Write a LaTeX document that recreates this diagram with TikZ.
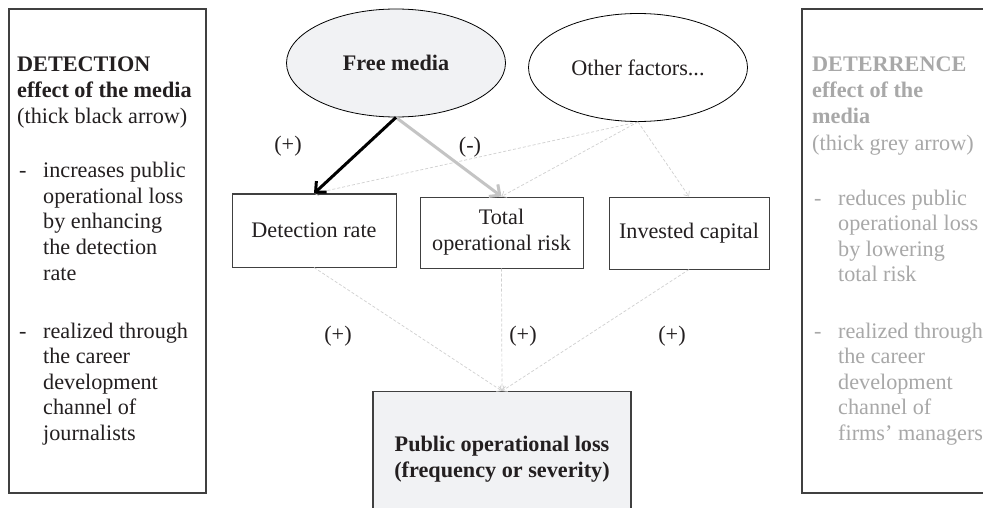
\documentclass[tikz,border=0pt]{standalone}
\usepackage{fontspec}
\setmainfont{Liberation Serif}
\usetikzlibrary{arrows.meta,shapes.geometric}
\definecolor{txt}{HTML}{231F20}
\definecolor{lg}{HTML}{A8A8A8}
\definecolor{fillg}{HTML}{F1F2F4}
\definecolor{dashc}{HTML}{D0D0D0}
\definecolor{arrg}{HTML}{C4C4C4}
\definecolor{bord}{HTML}{404040}
\newcommand\myfs{\fontsize{22.2}{26}\selectfont}
\begin{document}
\begin{tikzpicture}[x=1pt,y=-1pt, font=\myfs, text=txt,
  panel/.style={draw=bord, line width=1.2pt},
  ln/.style={anchor=base west, inner sep=0pt},
  ell/.style={ellipse, draw=black, line width=0.8pt, minimum width=219pt, minimum height=108pt, inner sep=0pt},
  varbox/.style={draw=bord, line width=1pt, align=center, inner sep=0pt},
  thickarr/.style={line width=3pt, -{Straight Barb[length=8pt,width=15pt]}},
  dasharr/.style={draw=dashc, line width=0.7pt, dash pattern=on 3pt off 2pt, -{Straight Barb[length=4pt,width=7pt]}},
  lbl/.style={inner sep=0pt}
]
\useasboundingbox (0,0) rectangle (983,508);
\clip (0,0) rectangle (983,508);
\fill[white] (0,0) rectangle (983,508);

% side panels
\draw[panel] (9,9) rectangle (206,493);
\draw[panel] (802,9) rectangle (1000,493);

% left panel text
\foreach \yy/\txt [count=\i] in {72/{\textbf{DETECTION}}, 98/{\textbf{effect of the media}}, 124/{(thick black arrow)}}
  \node[ln] (lh\i) at (17,\yy) {\txt};
\node[ln] (ld1) at (19,178) {-};
\foreach \yy/\txt [count=\i] in {178/{increases public}, 203.5/{operational loss}, 229/{by enhancing}, 254.5/{the detection}, 280/{rate}}
  \node[ln] (la\i) at (43,\yy) {\txt};
\node[ln] (ld2) at (19,338) {-};
\foreach \yy/\txt [count=\i] in {338/{realized through}, 363.5/{the career}, 389/{development}, 414.5/{channel of}, 440/{journalists}}
  \node[ln] (lb\i) at (43,\yy) {\txt};

% right panel text
\begin{scope}[text=lg]
\foreach \yy/\txt [count=\i] in {72/{\textbf{DETERRENCE}}, 98/{\textbf{effect of the}}, 124/{\textbf{media}}, 150/{(thick grey arrow)}}
  \node[ln] (rh\i) at (812,\yy) {\txt};
\node[ln] (rd1) at (814,205) {-};
\foreach \yy/\txt [count=\i] in {205/{reduces public}, 230.5/{operational loss}, 256/{by lowering}, 281.5/{total risk}}
  \node[ln] (ra\i) at (838,\yy) {\txt};
\node[ln] (rd2) at (814,338) {-};
\foreach \yy/\txt [count=\i] in {338/{realized through}, 363.5/{the career}, 389/{development}, 414.5/{channel of}, 440/{firms’ managers}}
  \node[ln] (rb\i) at (838,\yy) {\txt};
\end{scope}

% ellipses
\node[ell, fill=fillg, font=\myfs\bfseries] (free) at (396,63) {Free media};
\node[ell] (other) at (638,67.5) {Other factors...};

% middle boxes
\node[varbox, minimum width=164pt, minimum height=73pt] (det) at (314,230.5) {Detection rate};
\node[varbox, minimum width=163pt, minimum height=71pt] (tot) at (501.5,232.5) {Total\\operational risk};
\node[varbox, minimum width=160pt, minimum height=72pt] (inv) at (689,233) {Invested capital};

% outcome box
\node[draw=bord, line width=1.2pt, fill=fillg, minimum width=258pt, minimum height=140pt, anchor=north, inner sep=0pt] (pub) at (502,391) {};
\node[font=\myfs\bfseries, align=center, inner sep=0pt] (pubtxt) at (502,459) {Public operational loss\\(frequency or severity)};

% dashed connectors
\draw[dasharr] (other.south) -- (det.north);
\draw[dasharr] (other.south) -- (tot.north);
\draw[dasharr] (other.south) -- (inv.north);
\draw[dasharr] (det.south) -- (pub.north);
\draw[dasharr] (tot.south) -- (pub.north);
\draw[dasharr] (inv.south) -- (pub.north);

% thick arrows
\draw[thickarr, draw=arrg] (free.south) -- (tot.north);
\draw[thickarr, draw=black] (free.south) -- (det.north);

% signs
\node[lbl] (s1) at (288,146) {(+)};
\node[lbl] (s2) at (470,147) {(-)};
\node[lbl] (s3) at (338,336) {(+)};
\node[lbl] (s4) at (523,336) {(+)};
\node[lbl] (s5) at (672,336) {(+)};
\end{tikzpicture}
\end{document}
